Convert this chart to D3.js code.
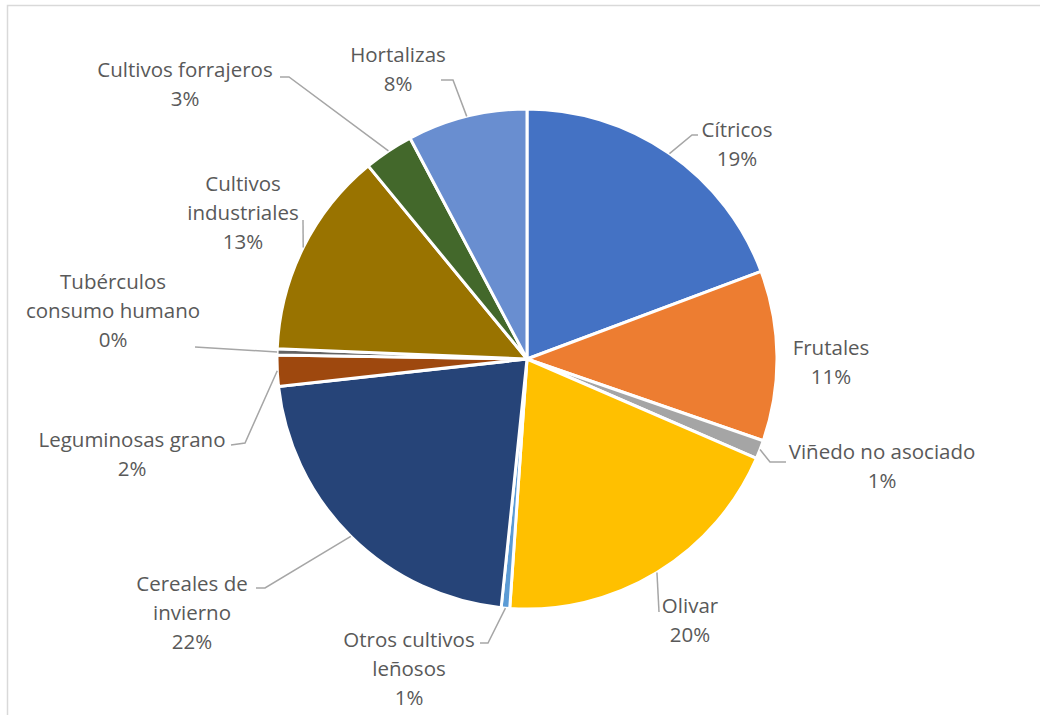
<!DOCTYPE html>
<html>
<head>
<meta charset="utf-8">
<script src="https://cdn.jsdelivr.net/npm/d3@7"></script>
<style>
	body { margin: 0; background: #fff; }
	#chart text { font-family: 'Open Sans', Lato, sans-serif; font-size: 20.5px; fill: #595959; }
</style>
</head>
<body>
<div id="chart"></div>
<script>
// data (share of area, %)
var categories = ['Cítricos', 'Frutales', 'Viñedo no asociado', 'Olivar', 'Otros cultivos leñosos',
	'Cereales de invierno', 'Leguminosas grano', 'Tubérculos consumo humano',
	'Cultivos industriales', 'Cultivos forrajeros', 'Hortalizas'];
var values = [19.3, 11.0, 1.2, 19.6, 0.55, 21.6, 2.0, 0.4, 13.4, 3.2, 7.75];
var colors = ['#4472C4', '#ED7D31', '#A5A5A5', '#FFC000', '#5B9BD5', '#264478',
	'#9E480E', '#636363', '#997300', '#43682B', '#698ED0'];

// label placement: text lines, centre x, first line y, leader bends
var labelLayout = {
	'Cítricos': {lines: ['Cítricos'], x: 737, y: 130, leader: [[692, 135], [698, 135]]},
	'Frutales': {lines: ['Frutales'], x: 831, y: 348, leader: null},
	'Viñedo no asociado': {lines: ['Viñedo no asociado'], x: 882, y: 452, leader: [[770, 462], [786, 462]]},
	'Olivar': {lines: ['Olivar'], x: 690, y: 606, leader: [[659, 612]]},
	'Otros cultivos leñosos': {lines: ['Otros cultivos', 'leñosos'], x: 409, y: 640, leader: [[488, 643], [480, 643]]},
	'Cereales de invierno': {lines: ['Cereales de', 'invierno'], x: 192, y: 584, leader: [[265, 588], [256, 588]]},
	'Leguminosas grano': {lines: ['Leguminosas grano'], x: 132, y: 440, leader: [[245, 443], [231, 445]]},
	'Tubérculos consumo humano': {lines: ['Tubérculos', 'consumo humano'], x: 113, y: 282, leader: [[195, 347]]},
	'Cultivos industriales': {lines: ['Cultivos', 'industriales'], x: 243, y: 184, leader: [[303, 220]]},
	'Cultivos forrajeros': {lines: ['Cultivos forrajeros'], x: 185, y: 70, leader: [[289, 77], [280, 77]]},
	'Hortalizas': {lines: ['Hortalizas'], x: 398, y: 55, leader: [[453, 80], [441, 80]]}
};

var width = 1040;
var height = 715;
var cx = 527, cy = 359;
var radius = 250;
var lineHeight = 29;

var total = d3.sum(values);
var dataset = categories.map(function(c, i){
	return {label: c, count: values[i], color: colors[i]};
});

var svg = d3.select('#chart')
	.append('svg')
	.attr('width', width)
	.attr('height', height);

// chart frame
svg.append('rect')
	.attr('x', 7.5)
	.attr('y', 5.5)
	.attr('width', width + 20)
	.attr('height', height + 20)
	.attr('fill', 'none')
	.attr('stroke', '#d9d9d9')
	.attr('stroke-width', 1.5);

var g = svg.append('g')
	.attr('transform', 'translate(' + cx + ',' + cy + ')');

var arc = d3.arc()
	.innerRadius(0)
	.outerRadius(radius);

var pie = d3.pie()
	.value(function(d){ return d.count; })
	.sort(null);

var arcs = pie(dataset);

g.selectAll('path.slice')
	.data(arcs)
	.enter()
	.append('path')
	.attr('class', 'slice')
	.attr('d', arc)
	.attr('fill', function(d){ return d.data.color; })
	.attr('stroke', '#fff')
	.attr('stroke-width', 3)
	.attr('stroke-linejoin', 'round');

// leader lines from the rim at the slice's middle angle
var line = d3.line();
arcs.forEach(function(d){
	var lay = labelLayout[d.data.label];
	if (!lay.leader) return;
	var mid = (d.startAngle + d.endAngle) / 2;
	var pts = [[radius * Math.sin(mid), -radius * Math.cos(mid)]];
	lay.leader.forEach(function(p){ pts.push([p[0] - cx, p[1] - cy]); });
	g.append('path')
		.attr('d', line(pts))
		.attr('fill', 'none')
		.attr('stroke', '#a6a6a6')
		.attr('stroke-width', 1.5);
});

// labels
arcs.forEach(function(d){
	var lay = labelLayout[d.data.label];
	var pct = Math.round(d.data.count / total * 100) + '%';
	var lines = lay.lines.concat([pct]);
	var t = svg.append('text')
		.attr('text-anchor', 'middle');
	lines.forEach(function(s, i){
		t.append('tspan')
			.attr('x', lay.x)
			.attr('y', lay.y + i * lineHeight)
			.attr('dy', '0.35em')
			.text(s);
	});
});
</script>
</body>
</html>
